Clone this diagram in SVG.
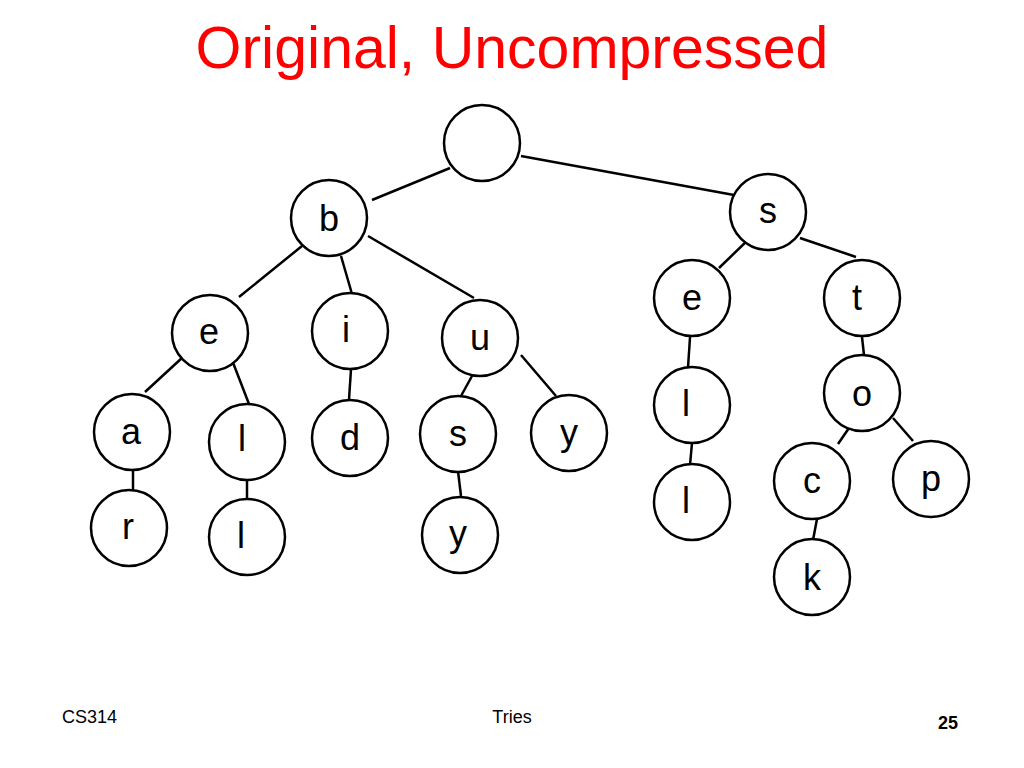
<svg xmlns="http://www.w3.org/2000/svg" width="1024" height="768" viewBox="0 0 1024 768">
<style>
.n circle{fill:#fff;stroke:#000;stroke-width:2.5}
.n text{font-family:"Liberation Sans",Arial,sans-serif;font-size:36px;text-anchor:middle;dominant-baseline:central}
#edges line{stroke:#000;stroke-width:2.5}
.f{font-family:"Liberation Sans",Arial,sans-serif;font-size:18px}
</style>
<rect width="1024" height="768" fill="#fff"/>
<text x="512" y="68" font-family="Liberation Sans,Arial,sans-serif" font-size="59" fill="#f00" text-anchor="middle">Original, Uncompressed</text>
<g id="edges">
<line x1="450" y1="168" x2="372" y2="200"/>
<line x1="521" y1="156" x2="734" y2="195"/>
<line x1="302" y1="246" x2="239" y2="297"/>
<line x1="341" y1="256" x2="352" y2="294"/>
<line x1="368" y1="236" x2="474" y2="298"/>
<line x1="750" y1="238" x2="719" y2="268"/>
<line x1="800" y1="238" x2="856" y2="257"/>
<line x1="183" y1="357" x2="145" y2="392"/>
<line x1="232" y1="360" x2="249" y2="404"/>
<line x1="351" y1="369" x2="349" y2="400"/>
<line x1="472" y1="376" x2="461" y2="396"/>
<line x1="521" y1="355" x2="556" y2="396"/>
<line x1="690" y1="337" x2="688" y2="368"/>
<line x1="862" y1="337" x2="864" y2="355"/>
<line x1="133" y1="468" x2="133" y2="492"/>
<line x1="247" y1="473" x2="247" y2="500"/>
<line x1="458" y1="471" x2="461" y2="496"/>
<line x1="692" y1="443" x2="690" y2="465"/>
<line x1="849" y1="428" x2="838" y2="444"/>
<line x1="893" y1="418" x2="913" y2="441"/>
<line x1="817" y1="519" x2="813" y2="540"/>
</g>
<g id="root" class="n"><circle cx="482" cy="143" r="38"/></g>
<g id="b" class="n"><circle cx="329" cy="218" r="38"/><text x="329" y="218">b</text></g>
<g id="s" class="n"><circle cx="768" cy="212" r="38"/><text x="768" y="210">s</text></g>
<g id="e1" class="n"><circle cx="210" cy="333" r="38"/><text x="209" y="331">e</text></g>
<g id="i" class="n"><circle cx="350" cy="331" r="38"/><text x="346" y="329">i</text></g>
<g id="u" class="n"><circle cx="480" cy="338" r="38"/><text x="480" y="337">u</text></g>
<g id="e2" class="n"><circle cx="692" cy="298" r="38"/><text x="692" y="297">e</text></g>
<g id="t" class="n"><circle cx="862" cy="298" r="38"/><text x="857" y="297">t</text></g>
<g id="a" class="n"><circle cx="132" cy="432" r="38"/><text x="131" y="431">a</text></g>
<g id="l1" class="n"><circle cx="247" cy="442" r="38"/><text x="242" y="438">l</text></g>
<g id="d" class="n"><circle cx="350" cy="438" r="38"/><text x="350" y="437">d</text></g>
<g id="s2" class="n"><circle cx="458" cy="434" r="38"/><text x="458" y="433">s</text></g>
<g id="y1" class="n"><circle cx="569" cy="433" r="38"/><text x="569" y="432">y</text></g>
<g id="l2" class="n"><circle cx="692" cy="405" r="38"/><text x="686" y="403">l</text></g>
<g id="o" class="n"><circle cx="862" cy="393" r="38"/><text x="862" y="393">o</text></g>
<g id="r" class="n"><circle cx="129" cy="528" r="38"/><text x="128" y="526">r</text></g>
<g id="l3" class="n"><circle cx="247" cy="537" r="38"/><text x="241" y="535">l</text></g>
<g id="y2" class="n"><circle cx="460" cy="535" r="38"/><text x="458" y="533">y</text></g>
<g id="l4" class="n"><circle cx="692" cy="502" r="38"/><text x="686" y="500">l</text></g>
<g id="c" class="n"><circle cx="812" cy="481" r="38"/><text x="812" y="480">c</text></g>
<g id="p" class="n"><circle cx="931" cy="479" r="38"/><text x="931" y="478">p</text></g>
<g id="k" class="n"><circle cx="812" cy="577" r="38"/><text x="812" y="577">k</text></g>
<text class="f" x="62" y="723">CS314</text>
<text class="f" x="512" y="723" text-anchor="middle">Tries</text>
<text class="f" x="948" y="729" font-size="24" font-weight="bold" text-anchor="middle">25</text>
</svg>
